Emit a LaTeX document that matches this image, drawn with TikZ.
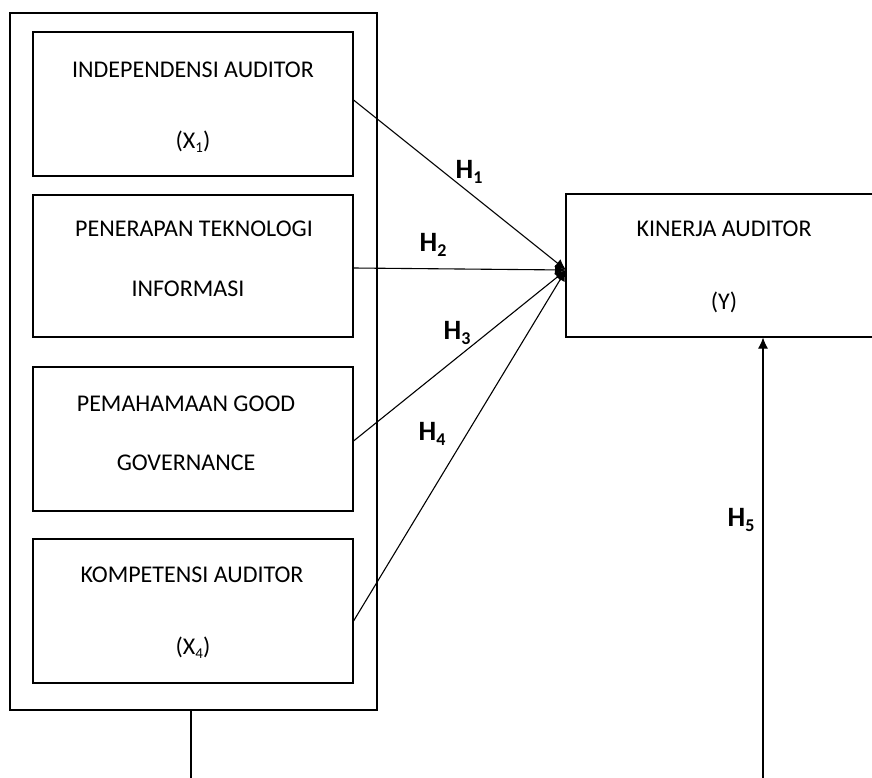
\documentclass[tikz,border=0pt]{standalone}
\usepackage{fontspec}
\setmainfont{Carlito}
\usetikzlibrary{arrows.meta}

\newcommand{\hlab}[1]{\textbf{H}\raisebox{-5pt}{\fontsize{18}{18}\selectfont\textbf{#1}}}
\newcommand{\xsub}[1]{\raisebox{-4pt}{\fontsize{15}{15}\selectfont #1}}

\begin{document}
\begin{tikzpicture}[x=1pt, y=-1pt,
  varbox/.style={draw, line width=1.1pt, minimum width=320pt, minimum height=144pt},
  txt/.style={font=\fontsize{24}{29}\selectfont, inner sep=0pt},
  hyp/.style={font=\fontsize{28}{34}\selectfont, inner sep=0pt},
  link/.style={line width=1.1pt, -{Latex[length=11pt,width=10pt]}}]
\path[use as bounding box, clip] (0,0) rectangle (872,778);
% frame of the independent variables
\node[draw, line width=1.1pt, minimum width=367pt, minimum height=697pt] (outer) at (193.5,361.5) {};
\node[varbox] (b1) at (193,104) {};
\node[varbox, minimum height=142pt] (b2) at (193,266) {};
\node[varbox] (b3) at (193,439) {};
\node[varbox] (b4) at (193,611) {};
\node[varbox, minimum height=143pt] (y) at (726,265.5) {};
% texts
\node[txt] (t1) at (193,70) {INDEPENDENSI AUDITOR};
\node[txt] (t1x) at (193,142) {(X\xsub{1})};
\node[txt] (t2) at (194,229) {PENERAPAN TEKNOLOGI};
\node[txt] (t2b) at (188,289) {INFORMASI};
\node[txt] (t3) at (186,404) {PEMAHAMAAN GOOD};
\node[txt] (t3b) at (186,463) {GOVERNANCE};
\node[txt] (t4) at (192,575) {KOMPETENSI AUDITOR};
\node[txt] (t4x) at (193,648) {(X\xsub{4})};
\node[txt] (ty) at (724,229) {KINERJA AUDITOR};
\node[txt] (tyy) at (724,302) {(Y)};
% hypotheses
\coordinate (m) at (566,270);
\draw[link] ([yshift=4pt]b1.east) -- (m);
\draw[link] ([yshift=-2pt]b2.east) -- (m);
\draw[link] ([yshift=-2pt]b3.east) -- (m);
\draw[link] ([yshift=-10pt]b4.east) -- (m);
\coordinate (foot) at (763,778);
\coordinate (base) at (191,778);
\draw[link] (foot) -- (foot |- y.south);
\draw[line width=1.1pt] (base |- outer.south) -- (base);
\node[hyp] (h1) at (469,172) {\hlab{1}};
\node[hyp] (h2) at (433,245) {\hlab{2}};
\node[hyp] (h3) at (457,333) {\hlab{3}};
\node[hyp] (h4) at (432,434) {\hlab{4}};
\node[hyp] (h5) at (741,520) {\hlab{5}};
\end{tikzpicture}
\end{document}
